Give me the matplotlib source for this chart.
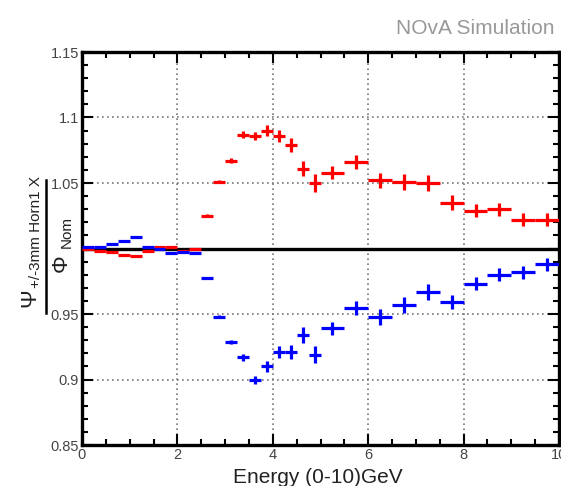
import numpy as np
import matplotlib.pyplot as plt
from matplotlib.ticker import MultipleLocator, FixedLocator

# Data: ratio of +/-3mm Horn1 X flux to nominal flux, per energy bin
bin_edges = [0.0, 0.25, 0.5, 0.75, 1.0, 1.25, 1.5, 1.75, 2.0, 2.25, 2.5,
             2.75, 3.0, 3.25, 3.5, 3.75, 4.0, 4.25, 4.5, 4.75, 5.0,
             5.5, 6.0, 6.5, 7.0, 7.5, 8.0, 8.5, 9.0, 9.5, 10.0]
ratio_plus = [1.000, 0.998, 0.997, 0.995, 0.994, 0.998, 1.001, 1.0015, 0.998, 1.000,
              1.025, 1.051, 1.067, 1.087, 1.086, 1.090, 1.086, 1.079, 1.061, 1.050,
              1.058, 1.066, 1.052, 1.051, 1.050, 1.035, 1.029, 1.030, 1.022, 1.022]
ratio_minus = [1.0012, 1.0012, 1.0034, 1.006, 1.0088, 1.0012, 0.9995, 0.9966, 0.9976, 0.9966,
               0.9775, 0.948, 0.9286, 0.917, 0.8996, 0.910, 0.921, 0.921, 0.934, 0.919,
               0.939, 0.9546, 0.9477, 0.957, 0.9668, 0.959, 0.973, 0.980, 0.982, 0.988]
ratio_err = [0.0005, 0.0005, 0.0005, 0.0005, 0.0005, 0.0005, 0.0005, 0.0005, 0.0005, 0.0005,
             0.001, 0.0012, 0.0018, 0.0025, 0.003, 0.004, 0.0045, 0.005, 0.006, 0.0065,
             0.005, 0.005, 0.006, 0.006, 0.006, 0.0055, 0.005, 0.005, 0.005, 0.005]

edges = np.array(bin_edges)
centres = 0.5 * (edges[1:] + edges[:-1])
half_w = 0.5 * (edges[1:] - edges[:-1])

plt.rcParams['font.family'] = ['Liberation Sans', 'DejaVu Sans']

fig = plt.figure(figsize=(5.61, 4.86), dpi=100)
ax = fig.add_axes([82 / 561, 1 - 445 / 486, 477 / 561, 393 / 486])

# Reference line and points
ax.axhline(1.0, color="black", linewidth=2.4, zorder=2)
ax.errorbar(centres, ratio_plus, xerr=half_w, yerr=ratio_err, fmt="none",
            ecolor="#ff0000", elinewidth=2.3, capsize=0, zorder=3)
ax.errorbar(centres, ratio_minus, xerr=half_w, yerr=ratio_err, fmt="none",
            ecolor="#0000ff", elinewidth=2.3, capsize=0, zorder=3)

# Axes styling (ROOT-like)
ax.set_xlim(0, 10)
ax.set_ylim(0.85, 1.15)
ax.xaxis.set_major_locator(MultipleLocator(2))
ax.xaxis.set_minor_locator(MultipleLocator(0.5))
ax.yaxis.set_major_locator(FixedLocator([0.85, 0.9, 0.95, 1.0, 1.05, 1.1, 1.15]))
ax.yaxis.set_minor_locator(MultipleLocator(0.01))
ax.set_yticklabels(["0.85", "0.9", "0.95", "", "1.05", "1.1", "1.15"])
ax.tick_params(which="both", direction="in", top=True, right=True,
               labelsize=10.5, labelcolor="#444444", width=1.5, pad=2)
ax.tick_params(which="major", length=8)
ax.tick_params(which="minor", length=4)
ax.grid(which="major", color="#777777", linestyle=(0, (1, 2)), linewidth=1.2)
for s in ax.spines.values():
    s.set_linewidth(2.4)

# Axis titles
fig.text(318 / 561, 1 - 477 / 486, "Energy (0-10)GeV", fontsize=15,
         ha="center", va="center", color="#222222")
fig.text(555 / 561, 1 - 28 / 486, "NOvA Simulation", fontsize=15,
         ha="right", va="center", color="#999999")

# Y axis title drawn as a fraction
fig.lines.append(plt.Line2D([46 / 561, 46 / 561], [1 - 180 / 486, 1 - 313 / 486],
                            transform=fig.transFigure, color="black", linewidth=1.8))
fig.text(30 / 561, 1 - 298 / 486, "Ψ", fontsize=16, rotation=90,
         ha="center", va="center", color="#222222")
fig.text(36 / 561, 1 - 232 / 486, "+/-3mm Horn1 X", fontsize=11, rotation=90,
         ha="center", va="center", color="#222222")
fig.text(61 / 561, 1 - 263 / 486, "Φ", fontsize=16, rotation=90,
         ha="center", va="center", color="#222222")
fig.text(67 / 561, 1 - 232 / 486, "Nom", fontsize=11, rotation=90,
         ha="center", va="center", color="#222222")

fig.savefig("out.png", dpi=100)
